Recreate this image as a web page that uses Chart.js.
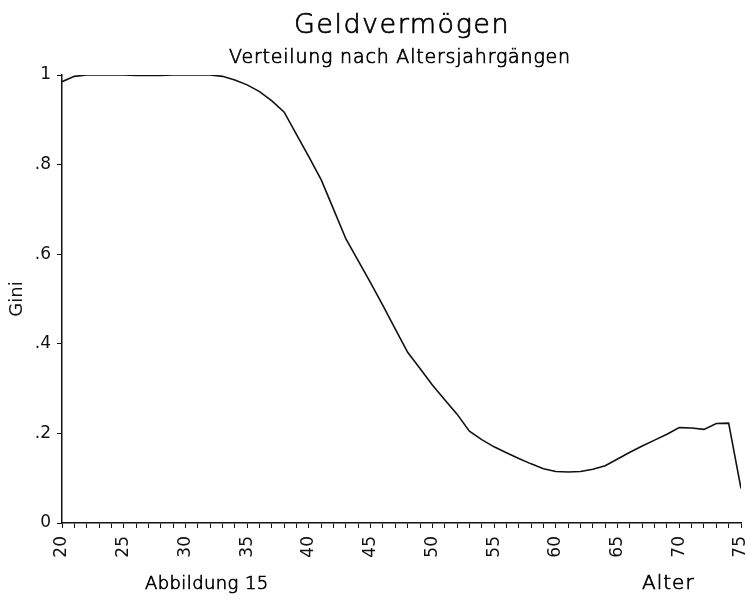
<!DOCTYPE html>
<html>
<head>
<meta charset="utf-8">
<script src="https://cdn.jsdelivr.net/npm/chart.js@4"></script>
<style>
  body { margin: 0; background: #fff; }
  canvas { display: block; }
</style>
</head>
<body>
<canvas id="chart" width="747" height="601"></canvas>
<script>
const ages = [20, 21, 22, 23, 24, 25, 26, 27, 28, 29,
              30, 31, 32, 33, 34, 35, 36, 37, 38, 39,
              40, 41, 42, 43, 44, 45, 46, 47, 48, 49,
              50, 51, 52, 53, 54, 55, 56, 57, 58, 59,
              60, 61, 62, 63, 64, 65, 66, 67, 68, 69,
              70, 71, 72, 73, 74, 75];
const gini = [0.985, 0.997, 1.0, 1.0, 1.0, 1.0, 0.999, 0.999, 0.999, 1.0,
              1.0, 1.0, 1.0, 0.997, 0.989, 0.978, 0.963, 0.942, 0.917, 0.867,
              0.817, 0.766, 0.700, 0.634, 0.585, 0.536, 0.485, 0.433, 0.381, 0.345,
              0.308, 0.275, 0.243, 0.205, 0.186, 0.170, 0.157, 0.144, 0.132, 0.121,
              0.115, 0.114, 0.115, 0.120, 0.128, 0.143, 0.158, 0.172, 0.185, 0.198,
              0.213, 0.212, 0.209, 0.222, 0.223, 0.077];
const yTickLabels = { 0: '0', 0.2: '.2', 0.4: '.4', 0.6: '.6', 0.8: '.8', 1: '1' };

const titleText = 'Geldvermögen';
const subtitleText = 'Verteilung nach Altersjahrgängen';
const noteText = 'Abbildung 15';
const xAxisText = 'Alter';

const FONT = '"DejaVu Sans", "Liberation Sans", sans-serif';
Chart.defaults.font.family = FONT;
Chart.defaults.color = '#111';

function plotterText(ctx, text, x, y, size, spacing, align) {
  ctx.font = '200 ' + size + 'px ' + FONT;
  ctx.letterSpacing = spacing + 'px';
  ctx.textAlign = align;
  ctx.fillText(text, x, y);
  ctx.strokeText(text, x, y);
}

// free text around the plot (title, figure note, axis name)
const textPlugin = {
  id: 'texts',
  afterDraw(chart) {
    const ctx = chart.ctx;
    ctx.save();
    ctx.fillStyle = '#000';
    ctx.strokeStyle = '#000';
    ctx.lineWidth = 0.7;
    ctx.textBaseline = 'alphabetic';
    plotterText(ctx, titleText, 402, 33, 27, 1.5, 'center');
    plotterText(ctx, subtitleText, 400, 63, 19, 0.8, 'center');
    plotterText(ctx, noteText, 145, 589, 18, 0.4, 'left');
    plotterText(ctx, xAxisText, 642, 589, 20, 1, 'left');
    ctx.restore();
  }
};

new Chart(document.getElementById('chart'), {
  type: 'line',
  data: {
    datasets: [{
      data: ages.map((a, i) => ({ x: a, y: gini[i] })),
      borderColor: '#111',
      borderWidth: 1.6,
      pointRadius: 0,
      tension: 0,
      fill: false
    }]
  },
  options: {
    responsive: false,
    animation: false,
    layout: { padding: { top: 75, right: 6, left: 0, bottom: 0 } },
    plugins: {
      legend: { display: false },
      tooltip: { enabled: false }
    },
    scales: {
      x: {
        type: 'linear',
        min: 20,
        max: 75,
        border: { color: '#111', width: 1.5 },
        grid: { drawOnChartArea: false, drawTicks: true, tickLength: 5, color: '#111' },
        ticks: {
          stepSize: 1,
          autoSkip: false,
          minRotation: 90,
          maxRotation: 90,
          padding: 8,
          font: { size: 17 },
          callback: (v) => (v % 5 === 0 ? String(v) : '')
        },
        afterFit: (s) => { s.height = 78; s.paddingLeft = 0; s.paddingRight = 0; }
      },
      y: {
        min: 0,
        max: 1,
        border: { color: '#111', width: 1.5 },
        grid: { drawOnChartArea: false, drawTicks: true, tickLength: 5, color: '#111' },
        title: { display: true, text: 'Gini', font: { size: 18 }, padding: { top: 7, bottom: 0 } },
        ticks: {
          stepSize: 0.2,
          padding: 6,
          font: { size: 17 },
          callback: (v) => yTickLabels[Math.round(v * 10) / 10] ?? ''
        },
        afterFit: (s) => { s.width = 62; s.paddingTop = 0; s.paddingBottom = 0; }
      }
    }
  },
  plugins: [textPlugin]
});
</script>
</body>
</html>
